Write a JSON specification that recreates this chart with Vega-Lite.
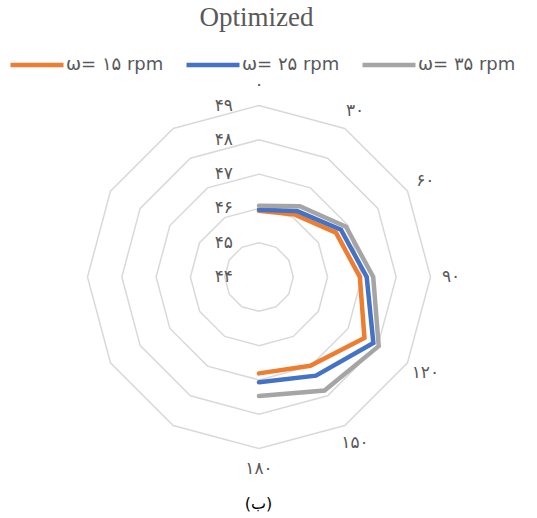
{
  "$schema": "https://vega.github.io/schema/vega-lite/v6.json",
  "width": 537,
  "height": 518,
  "autosize": {"type": "none"},
  "padding": 0,
  "background": "white",
  "config": {"view": {"stroke": null}},
  "title": {"text": "Optimized", "font": "Liberation Serif", "fontSize": 27, "fontWeight": "normal", "color": "#595959", "anchor": "middle", "frame": "group", "dy": 36, "dx": -12},
  "datasets": {
    "series": [
      {"series": "ω= ۱۵ rpm", "angle": 0, "value": 45.93},
      {"series": "ω= ۱۵ rpm", "angle": 30, "value": 46.10},
      {"series": "ω= ۱۵ rpm", "angle": 60, "value": 46.59},
      {"series": "ω= ۱۵ rpm", "angle": 90, "value": 46.94},
      {"series": "ω= ۱۵ rpm", "angle": 120, "value": 47.55},
      {"series": "ω= ۱۵ rpm", "angle": 150, "value": 46.99},
      {"series": "ω= ۱۵ rpm", "angle": 180, "value": 46.81},
      {"series": "ω= ۲۵ rpm", "angle": 0, "value": 45.96},
      {"series": "ω= ۲۵ rpm", "angle": 30, "value": 46.22},
      {"series": "ω= ۲۵ rpm", "angle": 60, "value": 46.76},
      {"series": "ω= ۲۵ rpm", "angle": 90, "value": 47.14},
      {"series": "ω= ۲۵ rpm", "angle": 120, "value": 47.85},
      {"series": "ω= ۲۵ rpm", "angle": 150, "value": 47.32},
      {"series": "ω= ۲۵ rpm", "angle": 180, "value": 47.07},
      {"series": "ω= ۳۵ rpm", "angle": 0, "value": 46.08},
      {"series": "ω= ۳۵ rpm", "angle": 30, "value": 46.38},
      {"series": "ω= ۳۵ rpm", "angle": 60, "value": 46.93},
      {"series": "ω= ۳۵ rpm", "angle": 90, "value": 47.33},
      {"series": "ω= ۳۵ rpm", "angle": 120, "value": 48.03},
      {"series": "ω= ۳۵ rpm", "angle": 150, "value": 47.82},
      {"series": "ω= ۳۵ rpm", "angle": 180, "value": 47.47}
    ],
    "rings": [
      {"level": 45, "angles": [0, 30, 60, 90, 120, 150, 180, 210, 240, 270, 300, 330, 360]},
      {"level": 46, "angles": [0, 30, 60, 90, 120, 150, 180, 210, 240, 270, 300, 330, 360]},
      {"level": 47, "angles": [0, 30, 60, 90, 120, 150, 180, 210, 240, 270, 300, 330, 360]},
      {"level": 48, "angles": [0, 30, 60, 90, 120, 150, 180, 210, 240, 270, 300, 330, 360]},
      {"level": 49, "angles": [0, 30, 60, 90, 120, 150, 180, 210, 240, 270, 300, 330, 360]}
    ],
    "radial": [
      {"level": 44, "label": "۴۴"},
      {"level": 45, "label": "۴۵"},
      {"level": 46, "label": "۴۶"},
      {"level": 47, "label": "۴۷"},
      {"level": 48, "label": "۴۸"},
      {"level": 49, "label": "۴۹"}
    ],
    "cats": [
      {"angle": 0, "label": "۰"},
      {"angle": 30, "label": "۳۰"},
      {"angle": 60, "label": "۶۰"},
      {"angle": 90, "label": "۹۰"},
      {"angle": 120, "label": "۱۲۰"},
      {"angle": 150, "label": "۱۵۰"},
      {"angle": 180, "label": "۱۸۰"}
    ]
  },
  "encoding": {
    "x": {"field": "x", "type": "quantitative", "scale": {"domain": [-7.551, 8.105], "nice": false, "zero": false},
          "axis": {"domain": false, "ticks": false, "labels": false, "grid": false, "title": "(ب)", "titleX": 258, "titleY": -10, "titleBaseline": "alphabetic", "titleFontSize": 16, "titleFontWeight": "normal", "titleColor": "#000000", "titleFont": "DejaVu Sans"}},
    "y": {"field": "y", "type": "quantitative", "scale": {"domain": [-7.026, 8.076], "nice": false, "zero": false}, "axis": null}
  },
  "layer": [
    {
      "data": {"name": "rings"},
      "transform": [
        {"flatten": ["angles"], "as": ["angle"]},
        {"calculate": "(datum.level - 44) * sin(datum.angle * PI / 180)", "as": "x"},
        {"calculate": "(datum.level - 44) * cos(datum.angle * PI / 180)", "as": "y"}
      ],
      "mark": {"type": "line", "stroke": "#D9D9D9", "strokeWidth": 1.5},
      "encoding": {"detail": {"field": "level"}, "order": {"field": "angle", "type": "quantitative"}}
    },
    {
      "data": {"name": "radial"},
      "transform": [
        {"calculate": "0", "as": "x"},
        {"calculate": "datum.level - 44", "as": "y"}
      ],
      "mark": {"type": "text", "align": "right", "baseline": "middle", "dx": -26, "fontSize": 17, "font": "DejaVu Sans", "color": "#595959"},
      "encoding": {"text": {"field": "label"}}
    },
    {
      "data": {"name": "cats"},
      "transform": [
        {"calculate": "5.6 * sin(datum.angle * PI / 180)", "as": "x"},
        {"calculate": "5.6 * cos(datum.angle * PI / 180)", "as": "y"}
      ],
      "mark": {"type": "text", "align": "center", "baseline": "middle", "fontSize": 17, "font": "DejaVu Sans", "color": "#595959"},
      "encoding": {"text": {"field": "label"}}
    },
    {
      "data": {"name": "series"},
      "transform": [
        {"calculate": "(datum.value - 44) * sin(datum.angle * PI / 180)", "as": "x"},
        {"calculate": "(datum.value - 44) * cos(datum.angle * PI / 180)", "as": "y"}
      ],
      "mark": {"type": "line", "strokeWidth": 4.5, "strokeCap": "round"},
      "encoding": {
        "order": {"field": "angle", "type": "quantitative"},
        "color": {"field": "series", "type": "nominal",
          "scale": {"domain": ["ω= ۱۵ rpm", "ω= ۲۵ rpm", "ω= ۳۵ rpm"], "range": ["#ED7D31", "#4472C4", "#A5A5A5"]},
          "legend": {"title": null, "orient": "none", "legendX": 8, "legendY": 36, "direction": "horizontal", "columns": 3, "gridAlign": "none",
            "symbolType": "stroke", "symbolSize": 2809, "symbolStrokeWidth": 4.5, "labelFontSize": 18, "labelFont": "DejaVu Sans",
            "labelAlign": "left", "labelColor": "#595959", "labelOffset": 0, "columnPadding": 13, "labelLimit": 200, "padding": 0}}
      }
    }
  ]
}
